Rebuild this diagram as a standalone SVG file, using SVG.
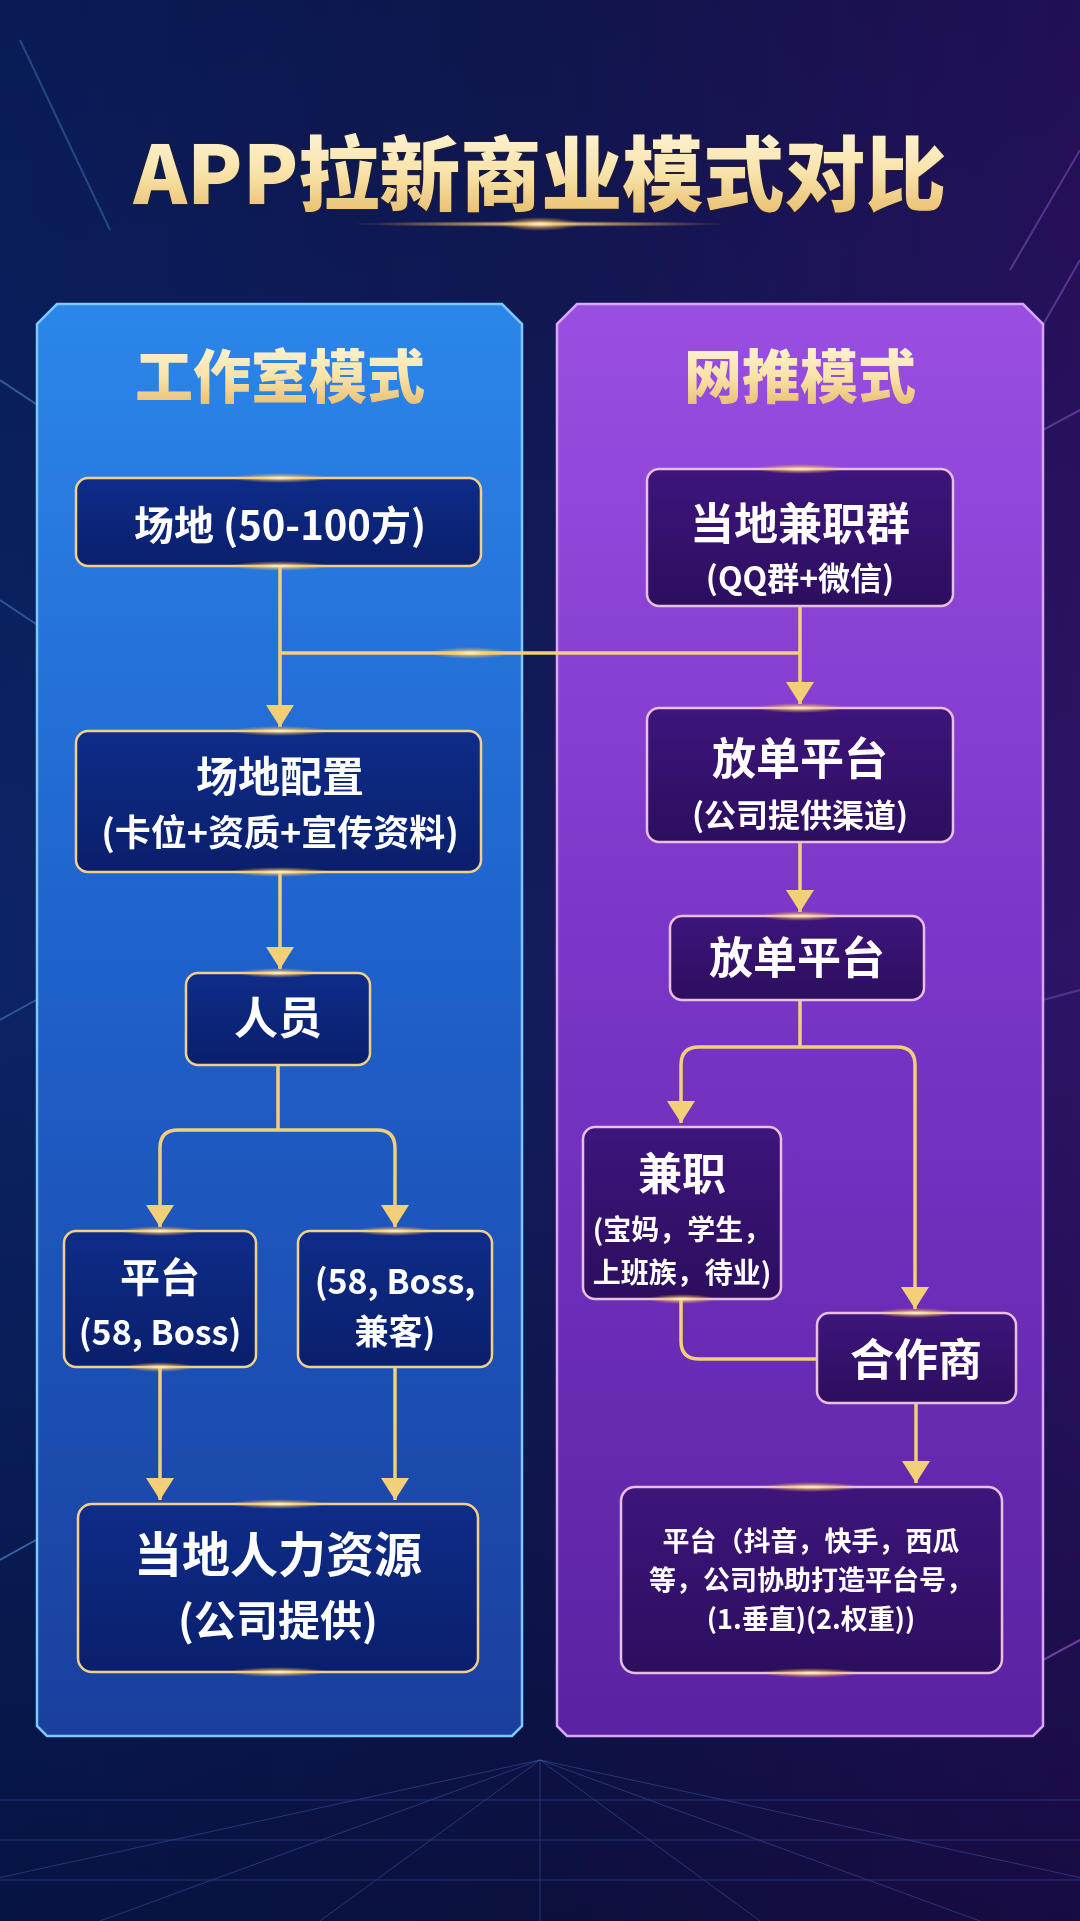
<svg xmlns="http://www.w3.org/2000/svg" width="1080" height="1921" viewBox="0 0 1080 1921">
<defs>
  <linearGradient id="bg" x1="0" y1="0" x2="1" y2="0">
    <stop offset="0" stop-color="#0b2466"/>
    <stop offset="0.5" stop-color="#141c5c"/>
    <stop offset="1" stop-color="#2d1466"/>
  </linearGradient>
  <linearGradient id="bgv" x1="0" y1="0" x2="0" y2="1">
    <stop offset="0" stop-color="#000020" stop-opacity="0.25"/>
    <stop offset="0.5" stop-color="#000020" stop-opacity="0"/>
    <stop offset="1" stop-color="#000018" stop-opacity="0.45"/>
  </linearGradient>
  <linearGradient id="panelL" x1="0" y1="0" x2="0" y2="1">
    <stop offset="0" stop-color="#2c86ea"/>
    <stop offset="0.45" stop-color="#1f62cc"/>
    <stop offset="1" stop-color="#1a3f9e"/>
  </linearGradient>
  <linearGradient id="panelR" x1="0" y1="0" x2="0" y2="1">
    <stop offset="0" stop-color="#9a4ee2"/>
    <stop offset="0.45" stop-color="#7a36c8"/>
    <stop offset="1" stop-color="#5a22a2"/>
  </linearGradient>
  <linearGradient id="nodeL" x1="0" y1="0" x2="0" y2="1">
    <stop offset="0" stop-color="#0e2c88"/>
    <stop offset="1" stop-color="#0a1f6c"/>
  </linearGradient>
  <linearGradient id="nodeR" x1="0" y1="0" x2="0" y2="1">
    <stop offset="0" stop-color="#3e157c"/>
    <stop offset="1" stop-color="#2c0e5e"/>
  </linearGradient>
  <linearGradient id="gold" x1="0" y1="0" x2="0" y2="1">
    <stop offset="0" stop-color="#fffbe6"/>
    <stop offset="0.55" stop-color="#f8e2a8"/>
    <stop offset="1" stop-color="#e4b45e"/>
  </linearGradient>
  <radialGradient id="glow">
    <stop offset="0" stop-color="#fff6d8" stop-opacity="1"/>
    <stop offset="0.4" stop-color="#ffd070" stop-opacity="0.6"/>
    <stop offset="1" stop-color="#ffb040" stop-opacity="0"/>
  </radialGradient>
  <marker id="ah" markerUnits="userSpaceOnUse" markerWidth="24" markerHeight="28" refX="22" refY="14" orient="auto" viewBox="0 0 24 28">
    <path d="M0 0 L22 14 L0 28 Z" fill="#f3cf78"/>
  </marker>
  <style>
    .panelL{fill:url(#panelL);stroke:#7cc8ff;stroke-width:2.5}
    .panelR{fill:url(#panelR);stroke:#d9a6ff;stroke-width:2.5}
    .nl{fill:url(#nodeL);stroke:#f2d08a;stroke-width:2.5}
    .nr{fill:url(#nodeR);stroke:#e8bfe0;stroke-width:2.5}
    .t{font-family:"Noto Sans CJK SC","Noto Sans",sans-serif;font-weight:700;fill:#ffffff;text-anchor:middle}
    .h{font-family:"Noto Sans CJK SC","Noto Sans",sans-serif;font-weight:900;fill:url(#gold);text-anchor:middle}
    .c{fill:none;stroke:#f3cf78;stroke-width:3.5;stroke-linejoin:round}
    .deco{stroke:#6fc0ff;stroke-width:2;fill:none}
    .decoP{stroke:#c080ff;stroke-width:2;fill:none}
  </style>
</defs>

<!-- background -->
<rect width="1080" height="1921" fill="url(#bg)"/>
<rect width="1080" height="1921" fill="url(#bgv)"/>
<g opacity="0.55">
  <path class="deco" d="M0 380 L120 460" opacity="0.7"/>
  <path class="deco" d="M0 600 L60 640" opacity="0.6"/>
  <path class="deco" d="M20 40 L110 230" opacity="0.5"/>
  <path class="deco" d="M0 1020 L36 1000" opacity="0.6"/>
  <path class="deco" d="M0 1560 L36 1540" stroke-width="4" opacity="0.8"/>
  <path class="decoP" d="M1080 150 L1010 270" opacity="0.6"/>
  <path class="decoP" d="M1080 260 L1040 330" opacity="0.6"/>
  <path class="decoP" d="M1043 430 L1080 410" opacity="0.6"/>
  <path class="decoP" d="M1043 1000 L1080 990" opacity="0.5"/>
  <path class="decoP" d="M1043 1660 L1080 1640" stroke-width="4" opacity="0.8"/>
</g>
<g stroke="#5a7ad8" stroke-width="1" opacity="0.35" fill="none">
  <path d="M0 1800 H1080 M0 1840 H1080 M0 1880 H1080"/>
  <path d="M540 1760 L-200 1921 M540 1760 L100 1921 M540 1760 L320 1921 M540 1760 L540 1921 M540 1760 L760 1921 M540 1760 L980 1921 M540 1760 L1280 1921"/>
</g>

<!-- title -->
<g id="title">
  <text class="h" x="540" y="204" font-size="81" style="paint-order:stroke" stroke="#3a2a10" stroke-width="2" stroke-opacity="0.4">APP拉新商业模式对比</text>
  <ellipse cx="540" cy="224" rx="190" ry="3" fill="url(#glow)"/>
  <ellipse cx="540" cy="224" rx="40" ry="7" fill="url(#glow)"/>
</g>

<!-- panels -->
<g id="panel-left">
  <path class="panelL" d="M57 304 H502 L522 324 V1726 L512 1736 H47 L37 1726 V324 Z"/>
  <text class="h" x="280" y="398" font-size="58">工作室模式</text>
</g>
<g id="panel-right">
  <path class="panelR" d="M577 304 H1023 L1043 324 V1726 L1033 1736 H567 L557 1726 V324 Z"/>
  <text class="h" x="800" y="398" font-size="58">网推模式</text>
</g>

<!-- connectors -->
<g id="connectors">
  <path class="c" d="M280 566 V727" marker-end="url(#ah)"/>
  <path class="c" d="M280 653 H800"/>
  <path class="c" d="M280 872 V969" marker-end="url(#ah)"/>
  <path class="c" d="M278 1065 V1130"/>
  <path class="c" d="M278 1130 H178 Q160 1130 160 1148 V1227" marker-end="url(#ah)"/>
  <path class="c" d="M278 1130 H377 Q395 1130 395 1148 V1227" marker-end="url(#ah)"/>
  <path class="c" d="M160 1367 V1500" marker-end="url(#ah)"/>
  <path class="c" d="M395 1367 V1500" marker-end="url(#ah)"/>

  <path class="c" d="M800 606 V704" marker-end="url(#ah)"/>
  <path class="c" d="M800 842 V912" marker-end="url(#ah)"/>
  <path class="c" d="M800 1000 V1047"/>
  <path class="c" d="M800 1047 H699 Q681 1047 681 1065 V1123" marker-end="url(#ah)"/>
  <path class="c" d="M800 1047 H897 Q915 1047 915 1065 V1309" marker-end="url(#ah)"/>
  <path class="c" d="M681 1299 V1341 Q681 1359 699 1359 H817"/>
  <path class="c" d="M916 1403 V1483" marker-end="url(#ah)"/>
  <ellipse cx="470" cy="653" rx="40" ry="6" fill="url(#glow)"/>
</g>

<!-- left nodes -->
<g id="n-site">
  <rect class="nl" x="76" y="478" width="405" height="88" rx="12"/>
  <text class="t" x="280" y="540" font-size="40">场地 (50-100方)</text>
</g>
<g id="n-config">
  <rect class="nl" x="76" y="731" width="405" height="141" rx="12"/>
  <text class="t" x="280" y="792" font-size="42">场地配置</text>
  <text class="t" x="280" y="846" font-size="36">(卡位+资质+宣传资料)</text>
</g>
<g id="n-staff">
  <rect class="nl" x="186" y="973" width="184" height="92" rx="12"/>
  <text class="t" x="278" y="1034" font-size="44">人员</text>
</g>
<g id="n-platform">
  <rect class="nl" x="64" y="1231" width="192" height="136" rx="12"/>
  <text class="t" x="160" y="1292" font-size="40">平台</text>
  <text class="t" x="160" y="1345" font-size="34">(58, Boss)</text>
</g>
<g id="n-jianke">
  <rect class="nl" x="298" y="1231" width="194" height="136" rx="12"/>
  <text class="t" x="395" y="1294" font-size="34">(58, Boss,</text>
  <text class="t" x="395" y="1344" font-size="34">兼客)</text>
</g>
<g id="n-hr">
  <rect class="nl" x="78" y="1504" width="400" height="168" rx="14"/>
  <text class="t" x="278" y="1572" font-size="48">当地人力资源</text>
  <text class="t" x="278" y="1636" font-size="42">(公司提供)</text>
</g>

<!-- right nodes -->
<g id="r-groups">
  <rect class="nr" x="647" y="469" width="306" height="137" rx="12"/>
  <text class="t" x="800" y="540" font-size="44">当地兼职群</text>
  <text class="t" x="800" y="590" font-size="32">(QQ群+微信)</text>
</g>
<g id="r-dispatch1">
  <rect class="nr" x="647" y="708" width="306" height="134" rx="12"/>
  <text class="t" x="800" y="775" font-size="44">放单平台</text>
  <text class="t" x="800" y="827" font-size="32">(公司提供渠道)</text>
</g>
<g id="r-dispatch2">
  <rect class="nr" x="670" y="916" width="254" height="84" rx="12"/>
  <text class="t" x="797" y="974" font-size="44">放单平台</text>
</g>
<g id="r-parttime">
  <rect class="nr" x="583" y="1127" width="198" height="172" rx="12"/>
  <text class="t" x="682" y="1190" font-size="44">兼职</text>
  <text class="t" x="682" y="1240" font-size="28">(宝妈，学生，</text>
  <text class="t" x="682" y="1283" font-size="28">上班族，待业)</text>
</g>
<g id="r-partner">
  <rect class="nr" x="817" y="1313" width="199" height="90" rx="12"/>
  <text class="t" x="916" y="1376" font-size="44">合作商</text>
</g>
<g id="r-platform">
  <rect class="nr" x="621" y="1487" width="381" height="186" rx="14"/>
  <text class="t" x="811" y="1551" font-size="27">平台（抖音，快手，西瓜</text>
  <text class="t" x="811" y="1590" font-size="27">等，公司协助打造平台号，</text>
  <text class="t" x="811" y="1629" font-size="27">(1.垂直)(2.权重))</text>
</g>

<!-- node glows -->
<g id="glows">
  <ellipse cx="280" cy="478" rx="50" ry="5" fill="url(#glow)"/>
  <ellipse cx="280" cy="566" rx="50" ry="5" fill="url(#glow)"/>
  <ellipse cx="280" cy="731" rx="50" ry="5" fill="url(#glow)"/>
  <ellipse cx="280" cy="872" rx="50" ry="5" fill="url(#glow)"/>
  <ellipse cx="278" cy="973" rx="40" ry="5" fill="url(#glow)"/>
  <ellipse cx="160" cy="1231" rx="40" ry="5" fill="url(#glow)"/>
  <ellipse cx="395" cy="1231" rx="40" ry="5" fill="url(#glow)"/>
  <ellipse cx="160" cy="1367" rx="35" ry="5" fill="url(#glow)"/>
  <ellipse cx="278" cy="1504" rx="50" ry="5" fill="url(#glow)"/>
  <ellipse cx="278" cy="1672" rx="50" ry="5" fill="url(#glow)"/>
  <ellipse cx="800" cy="469" rx="45" ry="5" fill="url(#glow)"/>
  <ellipse cx="800" cy="708" rx="45" ry="5" fill="url(#glow)"/>
  <ellipse cx="800" cy="916" rx="40" ry="5" fill="url(#glow)"/>
  <ellipse cx="682" cy="1299" rx="35" ry="5" fill="url(#glow)"/>
  <ellipse cx="916" cy="1313" rx="40" ry="5" fill="url(#glow)"/>
  <ellipse cx="811" cy="1487" rx="50" ry="5" fill="url(#glow)"/>
  <ellipse cx="811" cy="1673" rx="50" ry="5" fill="url(#glow)"/>
</g>
</svg>
